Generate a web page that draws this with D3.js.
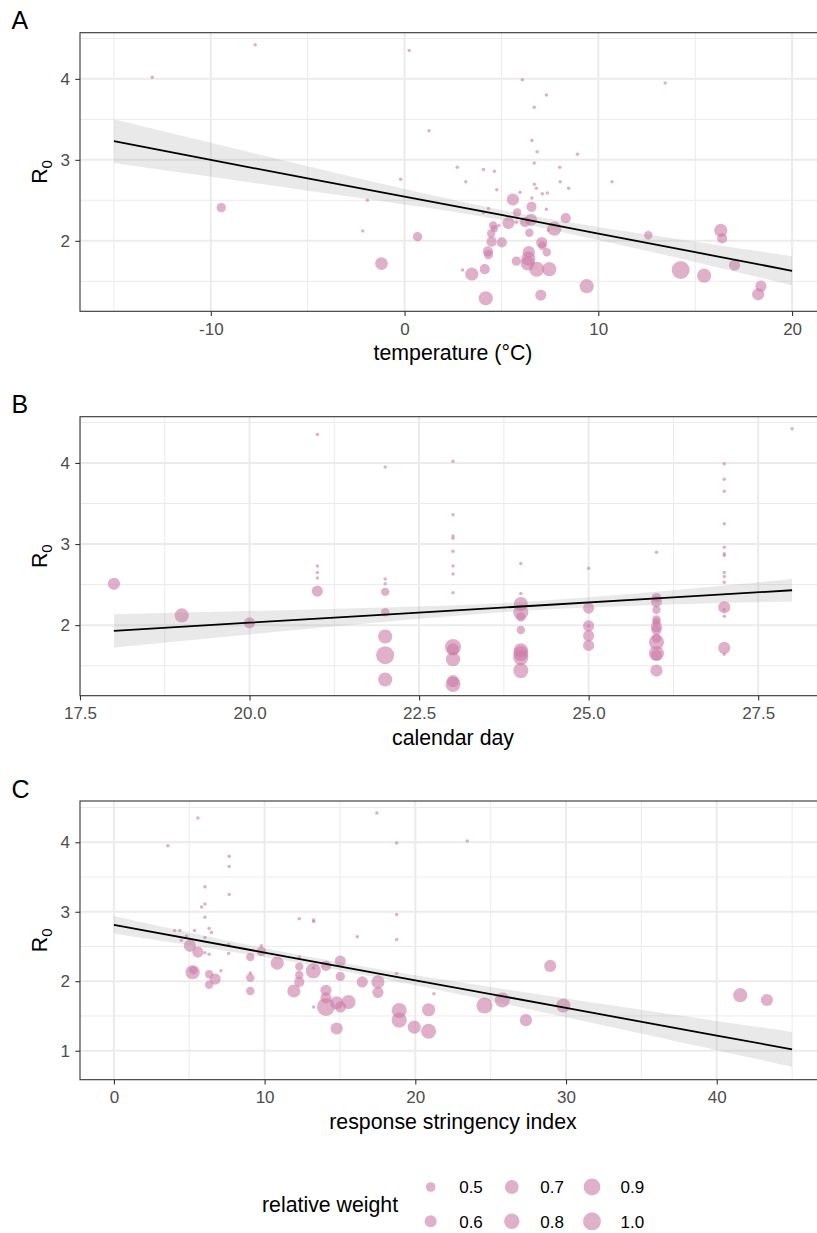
<!DOCTYPE html>
<html><head><meta charset="utf-8">
<script src="https://cdn.jsdelivr.net/npm/d3@7"></script>
<style>
body{margin:0;background:#fff}
svg{display:block;font-family:"Liberation Sans",Arial,Helvetica,sans-serif}
</style>
</head><body>
<svg id="chart" width="817" height="1233"></svg>
<script>
// ---------------- DATA ----------------
// Panel A: temperature (°C)
const tempX = [-13.02,-7.71,-2.16,-1.92,-0.2,0.24,1.26,2.72,3.16,4.07,4.64,4.76,6.08,7.32,6.69,6.57,6.84,6.69,8.92,8.01,8.03,8.47,6.70,6.80,7.11,7.37,5.96,6.57,10.71,13.45,4.33,4.07,7.32,5.76,4.87,2.99,7.42,
  -9.46,-1.19,0.67,5.59,5.81,6.55,5.36,6.22,6.53,7.73,8.32,4.57,4.64,4.47,4.49,5.02,6.44,7.08,7.11,7.34,4.30,4.33,6.41,6.39,6.36,5.77,6.82,7.47,3.47,4.14,4.19,7.03,9.40,12.58,14.25,15.46,16.32,16.39,17.03,18.39,18.25];
const tempR0 = [4.02,4.42,2.12,2.50,2.76,4.35,3.36,2.91,2.73,2.88,2.86,2.63,3.99,3.80,3.65,3.24,3.10,2.96,3.07,2.91,2.73,2.65,2.70,2.65,2.58,2.59,2.60,2.53,2.73,3.95,2.40,2.35,2.39,2.23,2.19,1.64,2.13,
  2.41,1.72,2.05,2.51,2.35,2.42,2.22,2.23,2.26,2.15,2.28,2.19,2.15,2.09,1.99,1.98,2.10,1.98,1.94,1.86,1.87,1.83,1.86,1.78,1.72,1.75,1.65,1.65,1.59,1.65,1.29,1.33,1.44,2.07,1.64,1.57,2.13,2.03,1.70,1.44,1.34];
const tempWeight = [0.39,0.39,0.39,0.39,0.39,0.39,0.39,0.39,0.39,0.39,0.39,0.39,0.39,0.39,0.39,0.39,0.39,0.39,0.39,0.39,0.39,0.39,0.39,0.39,0.39,0.39,0.39,0.39,0.39,0.39,0.39,0.39,0.39,0.39,0.39,0.39,0.39,
  0.49,0.64,0.49,0.61,0.46,0.52,0.61,0.52,0.61,0.72,0.52,0.46,0.43,0.46,0.52,0.52,0.46,0.56,0.46,0.46,0.52,0.49,0.61,0.72,0.72,0.49,0.78,0.72,0.66,0.52,0.72,0.56,0.72,0.46,1.0,0.72,0.66,0.52,0.56,0.56,0.61];

// Panel B: calendar day
const dayX = [18,19,20, 21,21,21,21,21, 22,22,22,22,22,22,22,22,
  23,23,23,23,23,23,23,23,23,23,23,23,23, 24,24,24,24,24,24,24,24,24,24,
  25,25,25,25,25,25, 26,26,26,26,26,26,26,26,26,26,26,26,26,
  27,27,27,27,27,27,27,27,27,27,27,27,27,27,27, 28];
const dayR0 = [2.51,2.12,2.03, 4.35,2.73,2.65,2.58,2.42, 3.95,2.57,2.51,2.41,2.16,1.86,1.63,1.33,
  4.02,3.36,3.10,3.07,2.91,2.73,2.63,2.40,1.73,1.70,1.58,1.31,1.27, 2.76,2.39,2.26,2.16,2.10,1.94,1.69,1.65,1.60,1.44,
  2.70,2.21,1.99,1.99,1.87,1.75, 2.90,2.34,2.29,2.19,2.07,2.04,1.98,1.94,1.84,1.79,1.65,1.63,1.44,
  3.99,3.80,3.65,3.25,2.96,2.88,2.86,2.65,2.60,2.53,2.22,2.19,2.11,1.72,1.64, 4.42];
const dayWeight = [0.61,0.72,0.56, 0.39,0.39,0.39,0.39,0.56, 0.39,0.39,0.39,0.46,0.46,0.72,1.0,0.72,
  0.39,0.39,0.39,0.39,0.39,0.39,0.39,0.39,0.85,0.61,0.72,0.61,0.78, 0.39,0.39,0.72,0.78,0.49,0.46,0.72,0.78,0.78,0.78,
  0.39,0.56,0.56,0.39,0.56,0.56, 0.39,0.49,0.56,0.46,0.46,0.46,0.56,0.52,0.49,0.78,0.78,0.56,0.61,
  0.39,0.39,0.39,0.39,0.39,0.39,0.39,0.39,0.39,0.39,0.61,0.39,0.39,0.61,0.39, 0.39];

// Panel C: response stringency index
const stringX = [5.57,3.58,17.45,18.76,23.45,7.65,7.65,6.04,7.65,6.04,5.82,6.04,12.30,13.25,13.25,18.76,18.76,16.15,4.03,4.38,5.35,6.32,6.47,4.82,4.47,6.04,9.78,7.61,7.61,6.04,6.32,7.10,9.05,12.30,13.25,13.25,18.76,21.23,
  5.04,5.57,5.22,5.27,6.32,6.72,6.32,9.05,9.05,9.05,9.78,10.84,12.30,12.30,12.30,11.94,13.23,14.07,15.02,15.02,14.07,14.07,14.07,14.78,15.04,15.57,14.78,16.48,17.52,17.52,18.93,18.93,19.93,20.88,20.88,24.59,25.77,27.34,28.95,29.82,41.56,43.33];
const stringR0 = [4.35,3.95,4.42,3.99,4.02,3.80,3.65,3.36,3.25,3.11,3.07,2.92,2.90,2.88,2.86,2.96,2.60,2.64,2.73,2.73,2.73,2.76,2.70,2.65,2.59,2.63,2.51,2.53,2.40,2.41,2.39,2.15,2.12,2.35,2.19,1.63,2.11,1.82,
  2.51,2.42,2.13,2.16,2.10,2.03,1.95,2.35,2.05,1.86,2.43,2.26,2.21,2.09,1.99,1.86,2.15,2.22,2.29,2.07,1.87,1.76,1.63,1.69,1.63,1.70,1.32,1.99,1.99,1.84,1.58,1.44,1.34,1.59,1.28,1.65,1.73,1.44,2.22,1.65,1.80,1.73];
const stringWeight = [0.39,0.39,0.39,0.39,0.39,0.39,0.39,0.39,0.39,0.39,0.39,0.39,0.39,0.39,0.39,0.39,0.39,0.39,0.39,0.39,0.39,0.39,0.39,0.39,0.39,0.39,0.39,0.39,0.39,0.39,0.39,0.39,0.39,0.39,0.39,0.39,0.39,0.39,
  0.61,0.56,0.72,0.46,0.46,0.56,0.46,0.46,0.46,0.46,0.49,0.66,0.46,0.46,0.52,0.66,0.78,0.52,0.56,0.49,0.56,0.56,1.0,0.66,0.56,0.72,0.61,0.56,0.66,0.56,0.78,0.78,0.66,0.66,0.78,0.85,0.78,0.61,0.61,0.72,0.72,0.61];

// Fitted regression lines and 95% bands
const tempFitX  = [-15,-10,-5,0,5,10,15,20];
const tempFit   = [3.23,3.00,2.77,2.545,2.32,2.09,1.86,1.63];
const tempLo    = [2.96,2.79,2.62,2.45,2.26,2.01,1.74,1.45];
const tempHi    = [3.50,3.21,2.92,2.64,2.38,2.17,1.99,1.81];
const dayFitX   = [18,20,22,24,26,28];
const dayFit    = [1.93,2.03,2.13,2.23,2.33,2.43];
const dayLo     = [1.725,1.886,2.043,2.175,2.248,2.292];
const dayHi     = [2.135,2.174,2.217,2.285,2.412,2.568];
const stringFitX = [0,10,20,30,40,45];
const stringFit  = [2.81,2.412,2.014,1.616,1.218,1.02];
const stringLo   = [2.685,2.348,1.943,1.48,1.007,0.77];
const stringHi   = [2.935,2.476,2.085,1.752,1.429,1.27];

// Axis limits and ticks
const tempLimits = [-16.75, 21.75];
const dayLimits = [17.5, 28.5];
const stringLimits = [-2.25, 47.25];
const r0LimitsAB = [1.13, 4.57];
const r0LimitsC = [0.583, 4.594];
const tempTicks = [-10, 0, 10, 20];
const tempMinor = [-15, -5, 5, 15];
const dayTicks = [17.5, 20, 22.5, 25, 27.5];
const dayMinor = [18.75, 21.25, 23.75, 26.25];
const stringTicks = [0, 10, 20, 30, 40];
const stringMinor = [5, 15, 25, 35, 45];
const r0TicksAB = [2, 3, 4];
const r0TicksC = [1, 2, 3, 4];
const r0Minor = [1.5, 2.5, 3.5, 4.5];

// Size legend
const legendWeights = [0.5, 0.6, 0.7, 0.8, 0.9, 1.0];
const weightLimits = [0.39, 1.0];

// ---------------- DRAWING ----------------
const svg = d3.select('#chart');
const plotLeft = 80, plotRight = 826;
const pointColor = '#CC79A7';

const wNorm = d3.scaleLinear().domain(weightLimits).range([0, 1]).clamp(true);
const rArea = d3.scaleSqrt().domain([0, 1]).range([1.75, 9]);
const radius = w => rArea(wNorm(w));

const panels = [
  {label:'A', top:32.7, bottom:311.3, xLim:tempLimits, yLim:r0LimitsAB, xTicks:tempTicks, xMinor:tempMinor,
   yTicks:r0TicksAB, fmt:d=>String(d), xs:tempX, ys:tempR0, ws:tempWeight,
   fx:tempFitX, fy:tempFit, flo:tempLo, fhi:tempHi, title:'temperature (°C)'},
  {label:'B', top:416.7, bottom:695.7, xLim:dayLimits, yLim:r0LimitsAB, xTicks:dayTicks, xMinor:dayMinor,
   yTicks:r0TicksAB, fmt:d3.format('.1f'), xs:dayX, ys:dayR0, ws:dayWeight,
   fx:dayFitX, fy:dayFit, flo:dayLo, fhi:dayHi, title:'calendar day'},
  {label:'C', top:801, bottom:1079.7, xLim:stringLimits, yLim:r0LimitsC, xTicks:stringTicks, xMinor:stringMinor,
   yTicks:r0TicksC, fmt:d=>String(d), xs:stringX, ys:stringR0, ws:stringWeight,
   fx:stringFitX, fy:stringFit, flo:stringLo, fhi:stringHi, title:'response stringency index'}
];

panels.forEach((p, pi) => {
  const x = d3.scaleLinear().domain(p.xLim).range([plotLeft, plotRight]);
  const y = d3.scaleLinear().domain(p.yLim).range([p.bottom, p.top]);
  const g = svg.append('g');
  const clipId = 'clip' + pi;
  svg.append('clipPath').attr('id', clipId).append('rect')
    .attr('x', plotLeft).attr('y', p.top).attr('width', plotRight - plotLeft).attr('height', p.bottom - p.top);

  const grid = g.append('g').attr('clip-path', `url(#${clipId})`);
  // minor grid
  grid.selectAll('.vminor').data(p.xMinor).join('line')
    .attr('x1', d => x(d)).attr('x2', d => x(d)).attr('y1', p.top).attr('y2', p.bottom)
    .attr('stroke', '#ebebeb').attr('stroke-width', 1);
  grid.selectAll('.hminor').data(r0Minor.filter(v => v > p.yLim[0] && v < p.yLim[1])).join('line')
    .attr('y1', d => y(d)).attr('y2', d => y(d)).attr('x1', plotLeft).attr('x2', plotRight)
    .attr('stroke', '#ebebeb').attr('stroke-width', 1);
  // major grid
  grid.selectAll('.vmajor').data(p.xTicks).join('line')
    .attr('x1', d => x(d)).attr('x2', d => x(d)).attr('y1', p.top).attr('y2', p.bottom)
    .attr('stroke', '#ebebeb').attr('stroke-width', 2);
  grid.selectAll('.hmajor').data(p.yTicks).join('line')
    .attr('y1', d => y(d)).attr('y2', d => y(d)).attr('x1', plotLeft).attr('x2', plotRight)
    .attr('stroke', '#ebebeb').attr('stroke-width', 2);

  // points
  const pts = p.xs.map((v, i) => ({x: v, y: p.ys[i], w: p.ws[i]}));
  g.append('g').attr('clip-path', `url(#${clipId})`)
    .selectAll('circle').data(pts).join('circle')
    .attr('cx', d => x(d.x)).attr('cy', d => y(d.y)).attr('r', d => radius(d.w))
    .attr('fill', pointColor).attr('fill-opacity', 0.6);

  // smooth ribbon + line
  const fitData = p.fx.map((v, i) => ({x: v, y: p.fy[i], lo: p.flo[i], hi: p.fhi[i]}));
  g.append('path').datum(fitData)
    .attr('d', d3.area().x(d => x(d.x)).y0(d => y(d.lo)).y1(d => y(d.hi)).curve(d3.curveCatmullRom))
    .attr('fill', '#999999').attr('fill-opacity', 0.22);
  g.append('path').datum(fitData)
    .attr('d', d3.line().x(d => x(d.x)).y(d => y(d.y)))
    .attr('fill', 'none').attr('stroke', '#000').attr('stroke-width', 1.8);

  // border
  g.append('rect').attr('x', plotLeft).attr('y', p.top)
    .attr('width', plotRight - plotLeft).attr('height', p.bottom - p.top)
    .attr('fill', 'none').attr('stroke', '#333333').attr('stroke-width', 1.1);

  // axes
  const xAxis = g.append('g').attr('transform', `translate(0,${p.bottom})`)
    .call(d3.axisBottom(x).tickValues(p.xTicks).tickFormat(p.fmt).tickSize(4.7).tickPadding(6.5));
  const yAxis = g.append('g').attr('transform', `translate(${plotLeft},0)`)
    .call(d3.axisLeft(y).tickValues(p.yTicks).tickFormat(d => String(d)).tickSize(4.7).tickPadding(5.3));
  [xAxis, yAxis].forEach(a => {
    a.select('.domain').remove();
    a.selectAll('.tick line').attr('stroke', '#333333').attr('stroke-width', 1.1);
    a.selectAll('.tick text').attr('fill', '#4d4d4d').style('font-size', '17px')
      .style('font-family', '"Liberation Sans",Arial,sans-serif');
  });

  // axis titles
  g.append('text').attr('x', (plotLeft + plotRight) / 2).attr('y', p.bottom + 49)
    .attr('text-anchor', 'middle').style('font-size', '21.3px').attr('fill', '#000').text(p.title);
  const yt = g.append('text')
    .attr('transform', `translate(46.5,${(p.top + p.bottom) / 2}) rotate(-90)`)
    .attr('text-anchor', 'middle').style('font-size', '21.3px').attr('fill', '#000');
  yt.append('tspan').text('R');
  yt.append('tspan').attr('dy', 5).style('font-size', '15px').text('0');

  // panel label
  g.append('text').attr('x', 11.5).attr('y', p.top - 3.4)
    .style('font-size', '25px').attr('fill', '#000').text(p.label);
});

// legend
const lg = svg.append('g');
lg.append('text').attr('x', 262).attr('y', 1212).style('font-size', '21.3px').attr('fill', '#000').text('relative weight');
const legCols = [430.7, 511.8, 592];
const legRows = [1187, 1221.3];
legendWeights.forEach((w, i) => {
  const cx = legCols[Math.floor(i / 2)], cy = legRows[i % 2];
  lg.append('circle').attr('cx', cx).attr('cy', cy).attr('r', radius(w))
    .attr('fill', pointColor).attr('fill-opacity', 0.6);
  lg.append('text').attr('x', cx + 28.5).attr('y', cy + 6.2)
    .style('font-size', '17px').attr('fill', '#000').text(d3.format('.1f')(w));
});
</script>
</body></html>
